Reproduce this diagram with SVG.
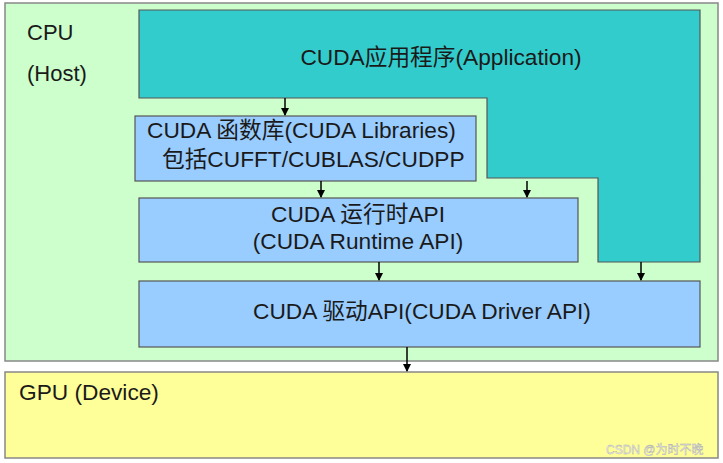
<svg xmlns="http://www.w3.org/2000/svg" width="723" height="463" viewBox="0 0 723 463">
<style>
.t{font-family:"Liberation Sans","Noto Sans CJK SC",Arial,sans-serif;fill:#1a1a1a;font-size:22.7px}
.c{text-anchor:middle}
.box{stroke:#555;stroke-width:1.2}
.con{stroke:#000;stroke-width:1.5;fill:none}
</style>
<defs>
<marker id="ah" markerWidth="8" markerHeight="8" refX="7" refY="4" orient="auto" markerUnits="userSpaceOnUse">
<path d="M0,0 L8,4 L0,8 z" fill="#000"/>
</marker>
</defs>
<rect width="723" height="463" fill="#fff"/>
<g id="cpu">
<rect x="5" y="3" width="713" height="358" fill="#ccffcc" stroke="#888" stroke-width="1.5"/>
<text class="t" x="27" y="40" style="font-size:22px">CPU</text>
<text class="t" x="27" y="81" style="font-size:22px">(Host)</text>
</g>
<g id="gpu">
<rect x="5" y="372" width="713" height="86" fill="#ffff99" stroke="#888" stroke-width="1.5"/>
<text class="t" x="19" y="400">GPU (Device)</text>
</g>
<g id="application">
<path class="box" d="M139,10 H700 V262 H598 V178 H487 V98 H139 Z" fill="#33cccc"/>
<text class="t c" x="441" y="65">CUDA应用程序(Application)</text>
</g>
<g id="libraries">
<rect class="box" x="135" y="116" width="341" height="65" fill="#99ccff"/>
<text class="t" x="147" y="138">CUDA 函数库(CUDA Libraries)</text>
<text class="t" x="162" y="167">包括CUFFT/CUBLAS/CUDPP</text>
</g>
<g id="runtime">
<rect class="box" x="139" y="198" width="439" height="64" fill="#99ccff"/>
<text class="t c" x="358" y="222">CUDA 运行时API</text>
<text class="t c" x="358" y="249">(CUDA Runtime API)</text>
</g>
<g id="driver">
<rect class="box" x="139" y="281" width="561" height="66" fill="#99ccff"/>
<text class="t c" x="422" y="319">CUDA 驱动API(CUDA Driver API)</text>
</g>
<g id="connectors">
<line class="con" x1="285" y1="98" x2="285" y2="115" marker-end="url(#ah)"/>
<line class="con" x1="321" y1="181" x2="321" y2="197" marker-end="url(#ah)"/>
<line class="con" x1="527" y1="181" x2="527" y2="197" marker-end="url(#ah)"/>
<line class="con" x1="379" y1="262" x2="379" y2="280" marker-end="url(#ah)"/>
<line class="con" x1="641" y1="262" x2="641" y2="280" marker-end="url(#ah)"/>
<line class="con" x1="407" y1="347" x2="407" y2="371" stroke-width="2.5" marker-end="url(#ah)"/>
</g>
<text x="606" y="454" style="font-family:'Liberation Sans','Noto Sans CJK SC',sans-serif;font-size:12px;fill:#f4f4f4;stroke:#aaa;stroke-width:0.4">CSDN @为时不晚</text>
</svg>
